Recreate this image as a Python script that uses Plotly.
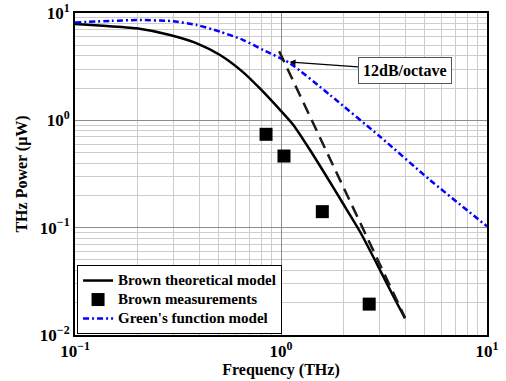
import numpy as np
import plotly.graph_objects as go

# Brown theoretical model (solid black)
theory_f = [0.1, 0.137, 0.199, 0.289, 0.39, 0.506, 0.656, 0.79, 0.989, 1.148, 1.383, 1.667, 2.0, 2.42, 2.92, 3.52, 4.0]
theory_p = [7.9, 7.62, 7.2, 6.24, 5.22, 4.06, 2.8, 1.98, 1.25, 0.904, 0.529, 0.298, 0.168, 0.0916, 0.046, 0.0227, 0.0143]

# Brown measurements (squares)
meas_f = [0.846, 1.034, 1.587, 2.68]
meas_p = [0.741, 0.465, 0.141, 0.0194]

# 12 dB/octave reference (dashed)
slope_f = [0.98, 4.0]
slope_p = [4.4, 0.0145]

# Green's function model (blue dash-dot)
green_f = [0.1, 0.15, 0.2, 0.29, 0.39, 0.506, 0.656, 0.82, 1.106, 1.73, 3.03, 5.29, 10.0]
green_p = [8.15, 8.45, 8.6, 8.42, 7.73, 6.7, 5.6, 4.52, 3.4, 1.72, 0.703, 0.278, 0.103]

# tick labels
x_tickvals = [0.1, 1, 10]
x_ticktext = ["10<sup>−1</sup>", "10<sup>0</sup>", "10<sup>1</sup>"]
y_tickvals = [0.01, 0.1, 1, 10]
y_ticktext = ["10<sup>−2</sup>", "10<sup>−1</sup>", "10<sup>0</sup>", "10<sup>1</sup>"]

# legend names
names = ["Brown theoretical model", "Brown measurements", "Green's function model"]

# annotation arrow target
annot_f = 1.1
annot_p = 3.49
annot_text = "12dB/octave"

FONT = "Liberation Serif"


def leg(name):
    # legend text drawn at 15px while the row spacing follows the smaller legend font size
    return '<span style="font-size:15px">' + name + '</span>'


fig = go.Figure()
fig.add_trace(go.Scatter(x=theory_f, y=theory_p, mode="lines", name=leg(names[0]),
                         line=dict(color="black", width=2.5, shape="spline", smoothing=0.6)))
fig.add_trace(go.Scatter(x=meas_f, y=meas_p, mode="markers", name=leg(names[1]),
                         marker=dict(symbol="square", size=13, color="black")))
fig.add_trace(go.Scatter(x=green_f, y=green_p, mode="lines", name=leg(names[2]),
                         line=dict(color="#0000ff", width=2.5, dash="6px,3px,2px,3px", shape="spline", smoothing=0.6)))
fig.add_trace(go.Scatter(x=slope_f, y=slope_p, mode="lines", showlegend=False,
                         line=dict(color="#1a1a1a", width=2.5, dash="12px,7px")))

axis_common = dict(
    type="log", automargin=False, ticklabeloverflow="allow",
    showgrid=True, gridcolor="#8c8c8c", gridwidth=1,
    minor=dict(dtick="D1", showgrid=True, gridcolor="#cccccc", gridwidth=1, ticks=""),
    showline=True, linecolor="black", linewidth=2, mirror=True,
    ticks="", zeroline=False,
    tickfont=dict(family=FONT, size=17, color="black", weight="bold"),
)

fig.update_xaxes(range=[-1, 1], tickmode="array", tickvals=x_tickvals, ticktext=x_ticktext,
                 title=dict(text="Frequency (THz)", font=dict(family=FONT, size=16, color="black", weight="bold"), standoff=2),
                 **axis_common)
fig.update_yaxes(range=[-2, 1], tickmode="array", tickvals=y_tickvals, ticktext=y_ticktext,
                 title=dict(text="THz Power (μW)", font=dict(family=FONT, size=16, color="black", weight="bold"), standoff=8),
                 **axis_common)

fig.add_annotation(x=np.log10(annot_f), y=np.log10(annot_p), xref="x", yref="y",
                   text=annot_text, showarrow=True, arrowhead=2, arrowsize=1, arrowwidth=1.2,
                   arrowcolor="black", ax=115, ay=8,
                   font=dict(family=FONT, size=16, color="black", weight="bold"),
                   bgcolor="white", bordercolor="#555555", borderwidth=1, borderpad=4)

fig.update_layout(
    width=506, height=381,
    margin=dict(l=75, r=19, t=13, b=46),
    paper_bgcolor="white", plot_bgcolor="white",
    font=dict(family=FONT, color="black"),
    showlegend=True,
    legend=dict(x=0.005, y=0.003, xanchor="left", yanchor="bottom",
                bgcolor="white", bordercolor="black", borderwidth=1,
                font=dict(family=FONT, size=12, color="black", weight="bold"),
                tracegroupgap=0, itemwidth=30),
)

fig.write_html("out.html", config={"displayModeBar": False},
               post_script="document.body.style.margin='0';")
